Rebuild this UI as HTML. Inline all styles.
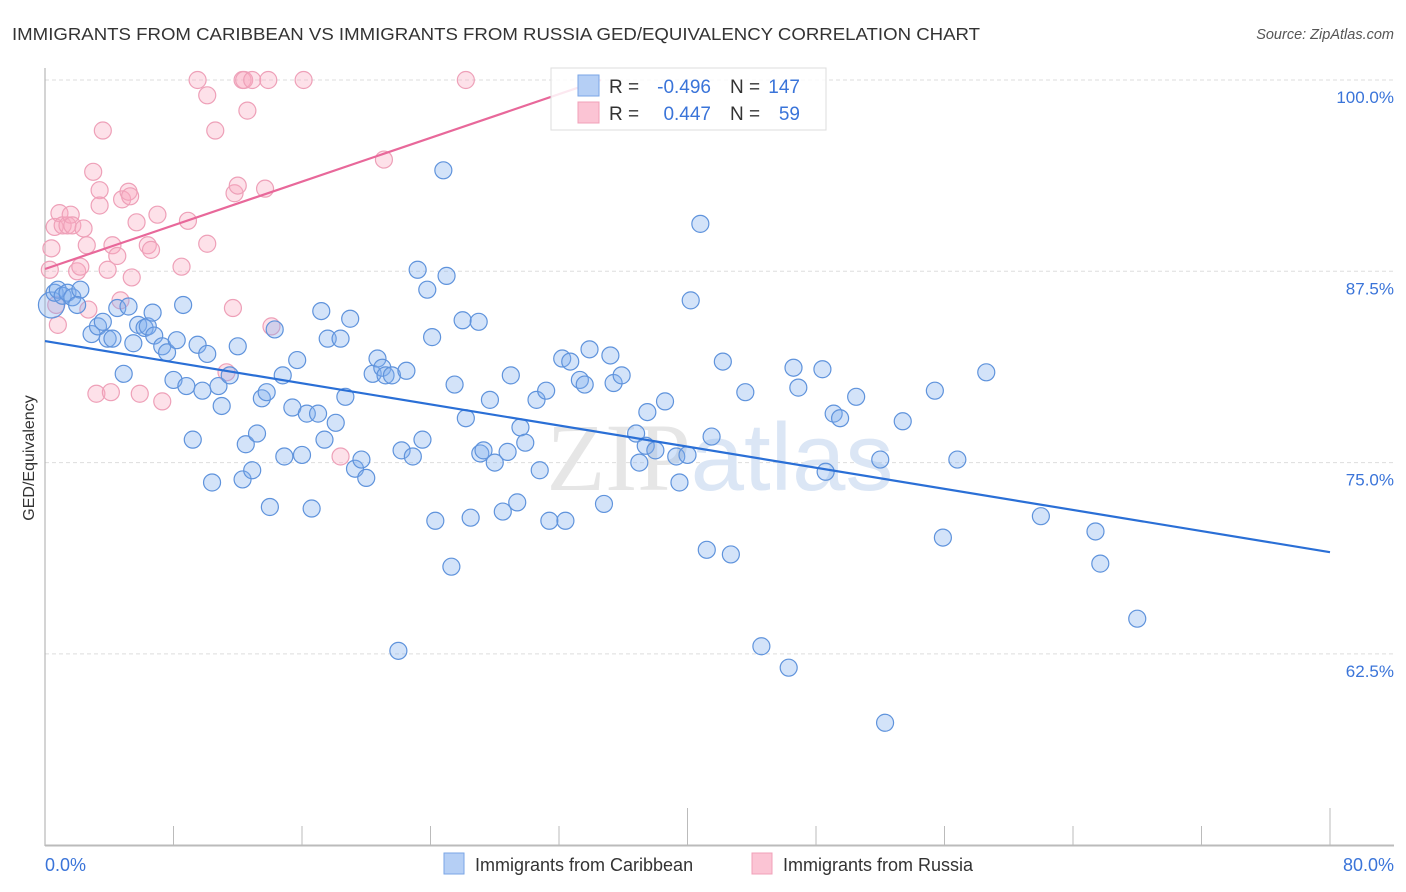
<!DOCTYPE html>
<html><head><meta charset="utf-8"><style>
body{margin:0;background:#fff;font-family:"Liberation Sans",sans-serif}
svg{display:block}
</style></head><body>
<svg id="chart" width="1406" height="892" viewBox="0 0 1406 892" xmlns="http://www.w3.org/2000/svg">
<text x="12" y="40" font-size="17.5" fill="#333" textLength="968" lengthAdjust="spacingAndGlyphs">IMMIGRANTS FROM CARIBBEAN VS IMMIGRANTS FROM RUSSIA GED/EQUIVALENCY CORRELATION CHART</text>
<text x="1394" y="39" font-size="14.5" fill="#555" font-style="italic" text-anchor="end">Source: ZipAtlas.com</text>
<g id="grid"></g>
<text x="720" y="490" font-size="96" text-anchor="middle" font-family="Liberation Serif, serif" fill="#e6e6e6">ZIP<tspan fill="#dbe6f5" font-family="Liberation Sans, sans-serif">atlas</tspan></text>
<g id="axes"></g>
<g id="pts"></g>
<g id="trends"></g>
<text transform="translate(34,458) rotate(-90)" font-size="16" fill="#333" text-anchor="middle">GED/Equivalency</text>
<g>
<rect x="551" y="68" width="275" height="62" fill="#fff" fill-opacity="0.85" stroke="#ddd"/>
<rect x="578" y="75" width="21" height="21" fill="#b5cff5" stroke="#7aa6e6"/>
<rect x="578" y="102" width="21" height="21" fill="#fbc4d4" stroke="#f0a0b8"/>
<text x="609" y="93" font-size="19" fill="#333">R = </text><text x="711" y="93" font-size="19" fill="#3a74d9" text-anchor="end">-0.496</text>
<text x="730" y="93" font-size="19" fill="#333">N = </text><text x="800" y="93" font-size="19" fill="#3a74d9" text-anchor="end">147</text>
<text x="609" y="120" font-size="19" fill="#333">R = </text><text x="711" y="120" font-size="19" fill="#3a74d9" text-anchor="end">0.447</text>
<text x="730" y="120" font-size="19" fill="#333">N = </text><text x="800" y="120" font-size="19" fill="#3a74d9" text-anchor="end">59</text>
</g>
<g>
<rect x="444" y="853" width="20" height="21" fill="#b5cff5" stroke="#7aa6e6"/>
<text x="475" y="871" font-size="18" fill="#333">Immigrants from Caribbean</text>
<rect x="752" y="853" width="20" height="21" fill="#fbc4d4" stroke="#f0a0b8"/>
<text x="783" y="871" font-size="18" fill="#333">Immigrants from Russia</text>
</g>
</svg>
<script>
const yTicks=[100,87.5,75,62.5];
const yTickLabels=["100.0%","87.5%","75.0%","62.5%"];
const xTickLabels=["0.0%","80.0%"];
const blueX=[0.4,0.6,0.8,1.1,1.4,1.7,2.2,2.0,2.9,3.3,3.6,3.9,4.2,4.5,4.9,5.2,5.5,5.8,6.2,6.4,6.7,6.8,7.3,7.6,8.0,8.2,8.6,8.8,9.2,9.5,9.8,10.1,10.4,10.8,11.0,11.5,12.0,12.3,12.5,12.9,13.2,13.5,13.8,14.0,14.3,14.8,14.9,15.4,15.7,16.0,16.3,16.6,17.0,17.2,17.4,17.6,18.1,18.4,18.7,19.0,19.3,19.7,20.0,20.4,20.7,21.0,21.2,21.6,22.0,22.2,22.5,22.9,23.2,23.5,23.8,24.1,24.3,24.8,25.0,25.3,25.5,26.0,26.2,26.5,27.0,27.1,27.3,27.7,28.0,28.5,28.8,29.0,29.4,29.6,29.9,30.6,30.8,31.2,31.4,32.2,32.4,32.7,33.3,33.6,33.9,34.8,35.2,35.4,35.9,36.8,37.0,37.4,37.5,38.0,38.6,39.3,39.5,40.0,40.2,40.8,41.2,41.5,42.2,42.7,43.6,44.6,46.3,46.6,46.9,48.4,48.6,49.1,49.5,50.5,52.0,52.3,53.4,55.4,55.9,56.8,58.6,62.0,65.4,65.7,68.0];
const blueY=[85.3,86.1,86.3,85.9,86.1,85.8,86.3,85.3,83.4,83.9,84.2,83.1,83.1,85.1,80.8,85.2,82.8,84.0,83.8,83.9,84.8,83.3,82.6,82.2,80.4,83.0,85.3,80.0,76.5,82.7,79.7,82.1,73.7,80.0,78.7,80.7,82.6,73.9,76.2,74.5,76.9,79.2,79.6,72.1,83.7,80.7,75.4,78.6,81.7,75.5,78.2,72.0,78.2,84.9,76.5,83.1,77.6,83.1,79.3,84.4,74.6,75.2,74.0,80.8,81.8,81.2,80.7,80.7,62.7,75.8,81.0,75.4,87.6,76.5,86.3,83.2,71.2,94.1,87.2,68.2,80.1,84.3,77.9,71.4,84.2,75.6,75.8,79.1,75.0,71.8,75.7,80.7,72.4,77.3,76.3,79.1,74.5,79.7,71.2,81.8,71.2,81.6,80.4,80.1,82.4,72.3,82.0,80.2,80.7,76.9,75.0,76.1,78.3,75.8,79.0,75.4,73.7,75.5,85.6,90.6,69.3,76.7,81.6,69.0,79.6,63.0,61.6,81.2,79.9,81.1,74.4,78.2,77.9,79.3,75.2,58.0,77.7,79.7,70.1,75.2,80.9,71.5,70.5,68.4,64.8];
const pinkX=[0.3,0.4,0.6,0.7,0.8,0.9,1.1,1.4,1.6,1.7,2.0,2.2,2.4,2.6,2.7,3.0,3.2,3.4,3.4,3.6,3.9,4.1,4.2,4.5,4.7,4.8,5.2,5.3,5.4,5.7,5.9,6.4,6.6,7.0,7.3,8.5,8.9,9.5,10.1,10.1,10.6,11.3,11.7,11.8,12.0,12.3,12.4,12.6,12.9,13.7,13.9,14.1,16.1,18.4,21.1,26.2];
const pinkY=[87.6,89.0,90.4,85.3,84.0,91.3,90.5,90.5,91.2,90.5,87.5,87.8,90.3,89.2,85.0,94.0,79.5,92.8,91.8,96.7,87.6,79.6,89.2,88.5,85.6,92.2,92.7,92.4,87.1,90.7,79.5,89.2,88.9,91.2,79.0,87.8,90.8,100,99.0,89.3,96.7,80.9,85.1,92.6,93.1,100,100,98.0,100,92.9,100,83.9,100,75.4,94.8,100];
const trendIntercept=[82.94,87.65];
const trendSlope=[-0.1724,0.357];
const trendEnd=[80,34.6];

const NS="http://www.w3.org/2000/svg";
const X=v=>45+v*(1285/80);
const Y=v=>80+(100-v)*(191.3/12.5);
function mk(tag,attrs,parent){const e=document.createElementNS(NS,tag);for(const k in attrs)e.setAttribute(k,attrs[k]);parent.appendChild(e);return e;}
const grid=document.getElementById('grid'),axes=document.getElementById('axes'),pts=document.getElementById('pts'),tr=document.getElementById('trends');
yTicks.forEach((t,i)=>{
 const l=mk('line',{x1:45,x2:1394,y1:Y(t),y2:Y(t),stroke:'#ddd','stroke-dasharray':'4,3'},grid);
 
 
 const tx=mk('text',{x:1394,y:Y(t)+23,'font-size':17,fill:'#3a74d9','text-anchor':'end'},axes);
 tx.textContent=yTickLabels[i];
 
 
});
mk('line',{x1:45,x2:45,y1:68,y2:846,stroke:'#aaa'},axes);
mk('line',{x1:45,x2:1394,y1:845.5,y2:845.5,stroke:'#bbb','stroke-width':2},axes);
for(let i=1;i<=10;i++){const x=X(i*8);mk('line',{x1:x,x2:x,y1:(i==5||i==10)?808:826,y2:845,stroke:'#bbb'},axes);}
[[0,'start'],[80,'end']].forEach((d,i)=>{const t=mk('text',{x:i?1394:45,y:871,'font-size':18,fill:'#3a74d9','text-anchor':d[1]},axes);t.textContent=xTickLabels[i];
 
 });
function series(xs,ys,fill,stroke,name){xs.forEach((v,i)=>{
 const c=mk('circle',{cx:X(v),cy:Y(ys[i]),r:(name==='point-caribbean'&&i===0)?13:8.5,fill:fill,stroke:stroke,'stroke-width':1.2},pts);
 
 });}
series(pinkX,pinkY,'rgba(248,168,192,0.35)','#eea0b8','point-russia');
series(blueX,blueY,'rgba(130,175,238,0.35)','#5f93dc','point-caribbean');
['#2a6fd6','#e8689a'].forEach((col,i)=>{
 const l=mk('line',{x1:X(0),y1:Y(trendIntercept[i]),x2:X(trendEnd[i]),y2:Y(trendIntercept[i]+trendSlope[i]*trendEnd[i]),stroke:col,'stroke-width':2.2},tr);
 
 
});
</script>
</body></html>
